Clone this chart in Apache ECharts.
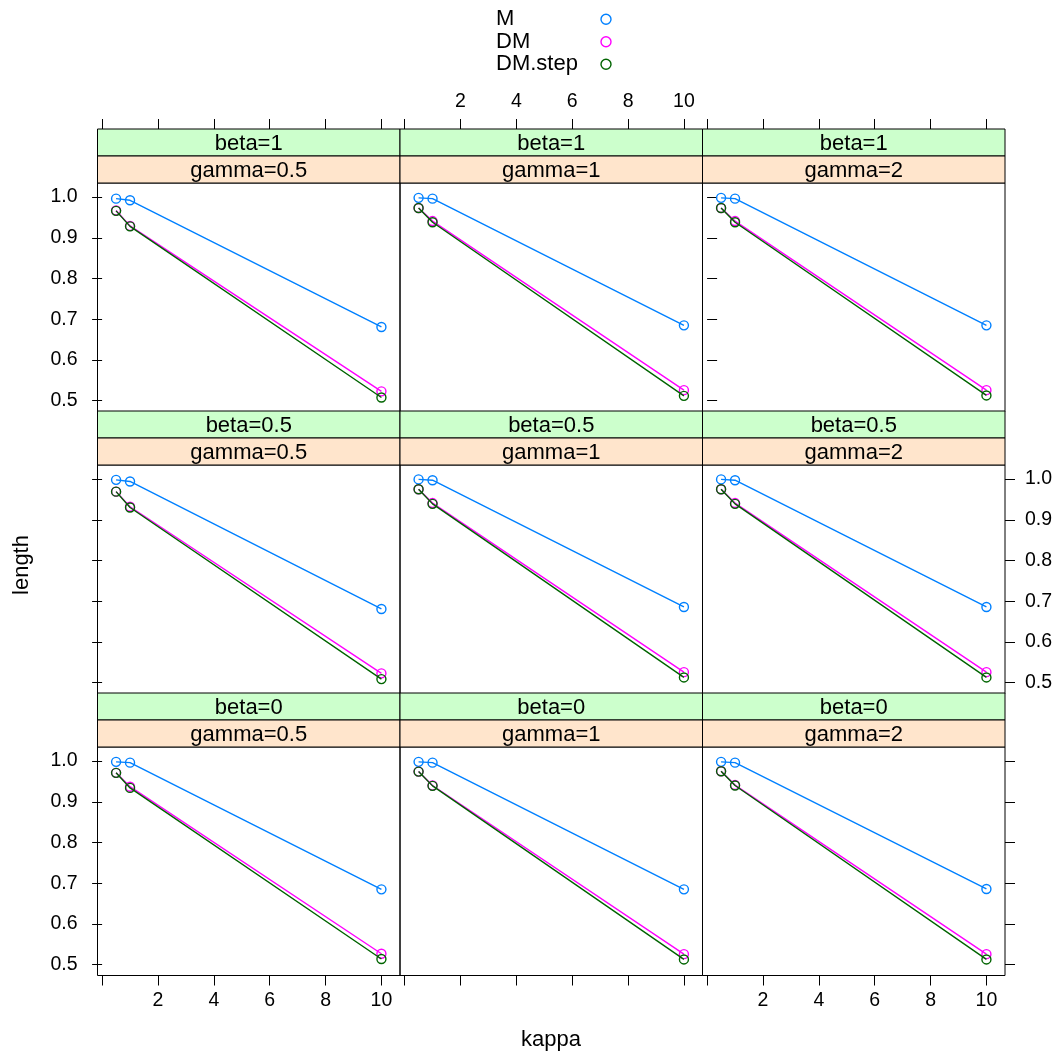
<!DOCTYPE html>
<html>
<head>
<meta charset="utf-8">
<script src="https://cdn.jsdelivr.net/npm/echarts@6/dist/echarts.min.js"></script>
<style>html,body{margin:0;padding:0;background:#fff;}#c{width:1057px;height:1057px;}</style>
</head>
<body>
<div id="c"></div>
<script>
// ---------------- data ----------------
const kappa = [0.5, 1, 10];
const gammaLevels = ['0.5', '1', '2'];          // columns
const betaLevels = ['1', '0.5', '0'];           // rows, top to bottom
const seriesNames = ['M', 'DM', 'DM.step'];
const xTicks = [0, 2, 4, 6, 8, 10];
const xTickLabels = [2, 4, 6, 8, 10];
const yTicks = [0.5, 0.6, 0.7, 0.8, 0.9, 1.0];

// values at kappa = 0.5, 1, 10 ; one row per gamma (0.5, 1, 2)
const M_beta1   = [[0.996, 0.992, 0.681], [0.998, 0.996, 0.685], [0.998, 0.996, 0.685]];
const DM_beta1  = [[0.967, 0.929, 0.523], [0.973, 0.941, 0.526], [0.973, 0.941, 0.526]];
const DMs_beta1 = [[0.966, 0.928, 0.508], [0.973, 0.938, 0.512], [0.973, 0.938, 0.513]];

const M_beta05   = [[0.998, 0.994, 0.681], [0.999, 0.997, 0.686], [0.999, 0.997, 0.686]];
const DM_beta05  = [[0.969, 0.932, 0.523], [0.975, 0.941, 0.526], [0.975, 0.941, 0.526]];
const DMs_beta05 = [[0.969, 0.930, 0.509], [0.975, 0.939, 0.513], [0.975, 0.939, 0.513]];

const M_beta0   = [[0.998, 0.996, 0.685], [0.998, 0.996, 0.685], [0.998, 0.996, 0.686]];
const DM_beta0  = [[0.971, 0.937, 0.527], [0.974, 0.940, 0.526], [0.975, 0.941, 0.526]];
const DMs_beta0 = [[0.971, 0.934, 0.514], [0.974, 0.939, 0.513], [0.975, 0.940, 0.513]];

const panelData = [
  [M_beta1, DM_beta1, DMs_beta1],
  [M_beta05, DM_beta05, DMs_beta05],
  [M_beta0, DM_beta0, DMs_beta0]
];

// ---------------- style / layout ----------------
const colors = ['#0080ff', '#ff00ff', '#006400'];
const FONT = '"Liberation Sans", Arial, Helvetica, sans-serif';
const L = 97.5, colW = 302.5, top0 = 129, rowH = 282, stripH = 27, panelH = 228.5;
const xMin = -0.165, xMax = 10.665, yMin = 0.4736, yMax = 1.0344;
const tickLen = 10;
const AX_FS = 19.5;

const grid = [], xAxis = [], yAxis = [], series = [], graphic = [];
let gi = 0;
for (let r = 0; r < 3; r++) {
  for (let c = 0; c < 3; c++) {
    const left = L + c * colW;
    const stripTop = top0 + r * rowH;
    const top = stripTop + 2 * stripH;
    grid.push({left: left, top: top, width: colW, height: panelH, show: true,
      borderColor: '#000', borderWidth: 1, backgroundColor: 'rgba(0,0,0,0)'});
    // strips
    const strips = [
      {txt: 'beta=' + betaLevels[r], fill: '#ccffcc', y: stripTop},
      {txt: 'gamma=' + gammaLevels[c], fill: '#ffe5cc', y: stripTop + stripH}
    ];
    strips.forEach(s => {
      graphic.push({type: 'rect', shape: {x: left, y: s.y, width: colW, height: stripH},
        style: {fill: s.fill, stroke: '#000', lineWidth: 1}, z: 10});
      graphic.push({type: 'text', x: left + colW / 2, y: s.y + stripH / 2 + 1,
        style: {text: s.txt, fill: '#000', font: '22px ' + FONT, align: 'center', verticalAlign: 'middle'}, z: 11});
    });
    // bottom x axis
    const xb = xAxis.length;
    xAxis.push({gridIndex: gi, type: 'value', position: 'bottom', min: xMin, max: xMax,
      axisLine: {show: false}, splitLine: {show: false},
      axisTick: {show: r === 2, inside: false, length: tickLen, customValues: xTicks, lineStyle: {color: '#000', width: 1}},
      axisLabel: {show: r === 2 && c !== 1, customValues: xTickLabels, margin: 15, fontSize: AX_FS, color: '#000', fontFamily: FONT}});
    if (r === 0) {
      xAxis.push({gridIndex: gi, type: 'value', position: 'top', offset: 2 * stripH, min: xMin, max: xMax,
        axisLine: {show: false}, splitLine: {show: false},
        axisTick: {show: true, inside: false, length: tickLen, customValues: xTicks, lineStyle: {color: '#000', width: 1}},
        axisLabel: {show: c === 1, customValues: xTickLabels, margin: 17, fontSize: AX_FS, color: '#000', fontFamily: FONT}});
    }
    const yl = yAxis.length;
    yAxis.push({gridIndex: gi, type: 'value', position: 'left', min: yMin, max: yMax,
      axisLine: {show: false}, splitLine: {show: false},
      axisTick: {show: c === 0, inside: false, length: tickLen, customValues: yTicks, lineStyle: {color: '#000', width: 1}},
      axisLabel: {show: c === 0 && r !== 1, customValues: yTicks, margin: 20, fontSize: AX_FS, color: '#000', fontFamily: FONT,
        formatter: v => v.toFixed(1)}});
    if (c === 2) {
      yAxis.push({gridIndex: gi, type: 'value', position: 'right', min: yMin, max: yMax,
        axisLine: {show: false}, splitLine: {show: false},
        axisTick: {show: true, inside: false, length: tickLen, customValues: yTicks, lineStyle: {color: '#000', width: 1}},
        axisLabel: {show: r === 1, customValues: yTicks, margin: 20, fontSize: AX_FS, color: '#000', fontFamily: FONT,
          formatter: v => v.toFixed(1)}});
    }
    for (let s = 0; s < 3; s++) {
      const vals = panelData[r][s][c];
      series.push({
        name: seriesNames[s], type: 'line', xAxisIndex: xb, yAxisIndex: yl,
        data: kappa.map((k, i) => [k, vals[i]]),
        symbol: 'circle', symbolSize: 9, showSymbol: true,
        lineStyle: {color: colors[s], width: 1.4},
        itemStyle: {color: 'rgba(0,0,0,0)', borderColor: colors[s], borderWidth: 1.4},
        emphasis: {disabled: true}, silent: true, z: 2 + s
      });
    }
    gi++;
  }
}

graphic.push({type: 'text', x: 22, y: 565, rotation: Math.PI / 2,
  style: {text: 'length', fill: '#000', font: '22px ' + FONT, align: 'center', verticalAlign: 'middle'}});
graphic.push({type: 'text', x: 551, y: 1040,
  style: {text: 'kappa', fill: '#000', font: '22px ' + FONT, align: 'center', verticalAlign: 'middle'}});

const chart = echarts.init(document.getElementById('c'), null, {renderer: 'canvas'});
chart.setOption({
  animation: false,
  backgroundColor: '#fff',
  grid: grid, xAxis: xAxis, yAxis: yAxis, series: series, graphic: graphic,
  legend: {
    orient: 'vertical', left: 491, top: 3, align: 'right', itemGap: 0,
    itemWidth: 10, itemHeight: 10, selectedMode: false,
    formatter: '{a|{name}}',
    data: seriesNames.map((n, i) => ({name: n, icon: 'circle',
      itemStyle: {color: 'rgba(0,0,0,0)', borderColor: colors[i], borderWidth: 1.4}})),
    textStyle: {fontSize: 22, fontFamily: FONT, color: '#000', lineHeight: 22.5,
      rich: {a: {width: 100, align: 'left', fontSize: 22, fontFamily: FONT, color: '#000', lineHeight: 22.5}}}
  }
});
</script>
</body>
</html>
